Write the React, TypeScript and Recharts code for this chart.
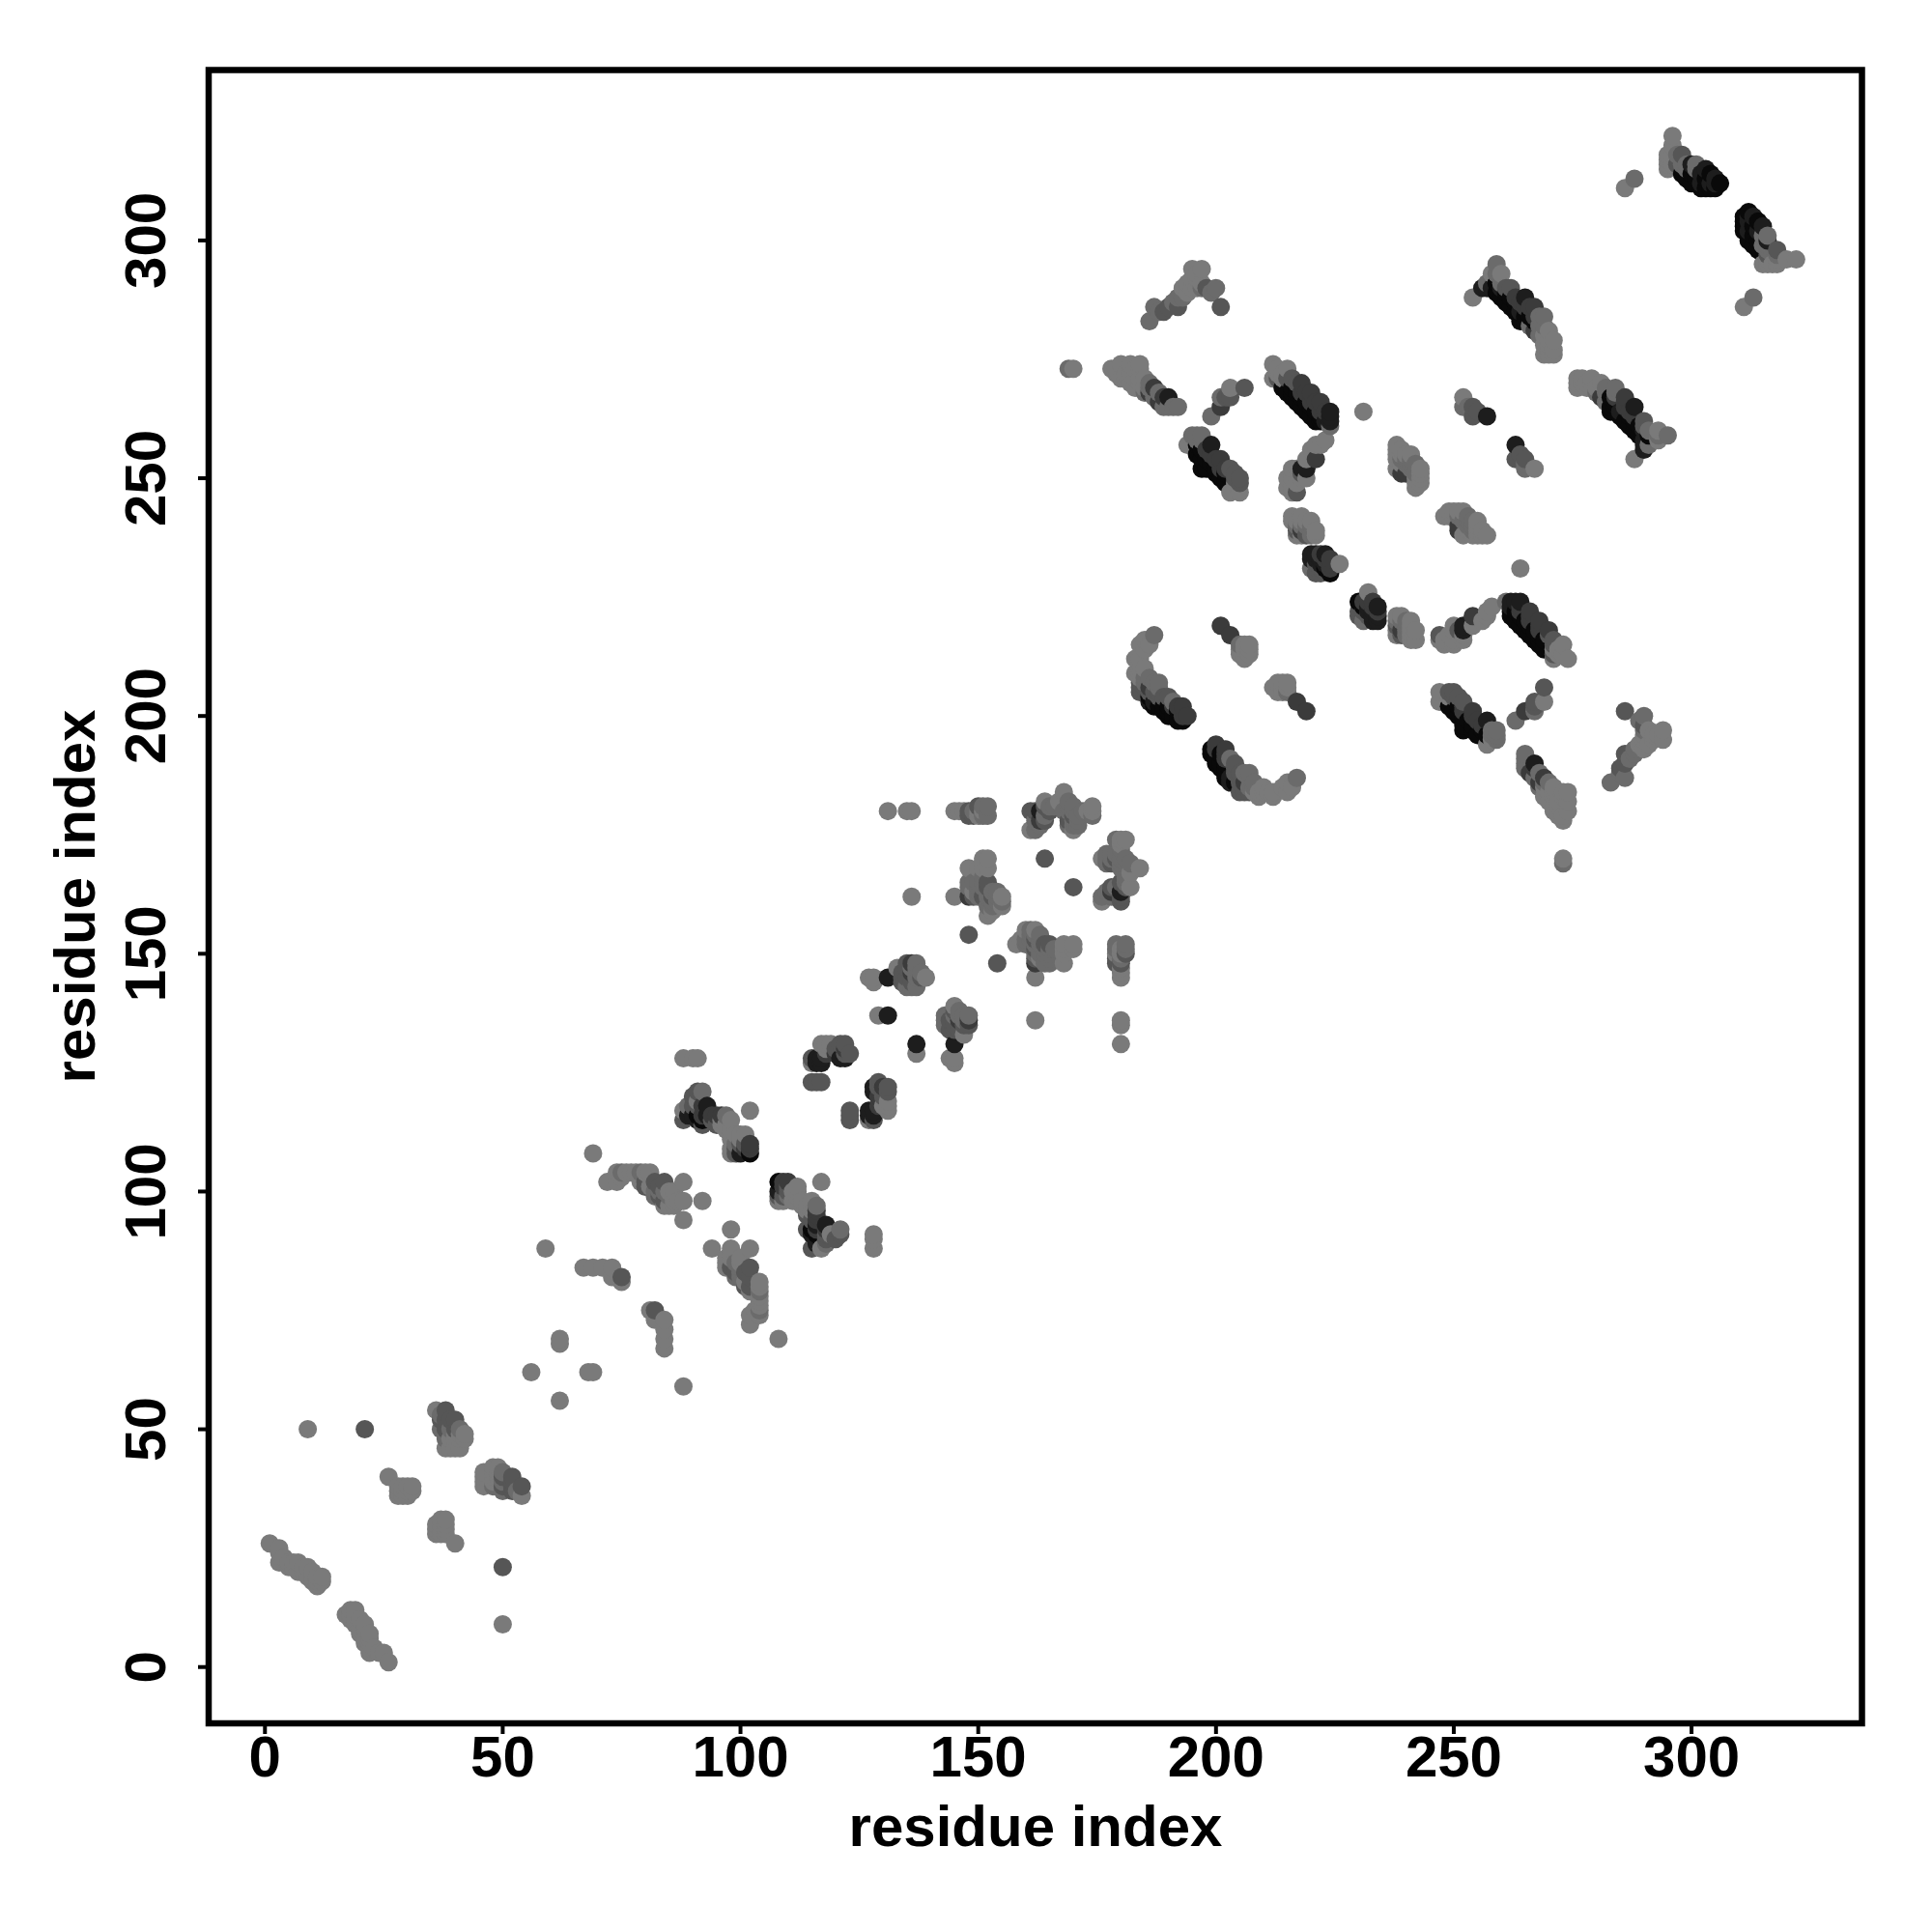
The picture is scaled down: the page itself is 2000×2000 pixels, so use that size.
import React from "react";
import { ScatterChart, Scatter, XAxis, YAxis, ReferenceArea, Label } from "recharts";

// Contacts (i < j); the map is symmetric, so each is drawn at (i,j) and (j,i).
const tickValues = [0, 50, 100, 150, 200, 250, 300];
const axisTitle = "residue index";

const level1 = [[9,50],[26,40],[28,38],[28,36],[29,36],[30,36],[31,37],[31,38],[29,38],[30,38],[29,37],[30,37],[28,37],[36,54],[39,46],[40,46],[41,46],[40,48],[41,48],[42,48],[42,49],[40,49],[41,49],[38,46],[39,48],[1,26],[3,25],[3,24],[3,22],[4,23],[4,22],[5,22],[5,21],[6,22],[6,21],[7,22],[7,20],[8,21],[8,20],[9,21],[9,19],[10,20],[10,19],[10,18],[11,19],[11,18],[12,19],[11,17],[12,18],[56,62],[62,69],[62,68],[59,88],[67,84],[69,84],[71,84],[73,84],[73,82],[75,81],[69,108],[72,102],[74,102],[74,104],[75,103],[76,104],[77,104],[78,104],[79,102],[80,104],[81,104],[81,101],[85,100],[85,97],[86,98],[86,100],[87,98],[86,97],[84,97],[88,102],[88,98],[92,98],[88,94],[88,128],[90,128],[91,128],[88,117],[98,115],[96,114],[96,115],[97,114],[97,113],[98,113],[102,117],[101,112],[99,112],[100,112],[98,111],[98,108],[98,109],[100,111],[91,119],[115,127],[117,131],[119,131],[118,131],[118,130],[127,145],[128,145],[128,144],[133,147],[139,145],[138,145],[129,137],[136,162],[145,162],[145,180],[146,180],[147,180],[150,179],[151,180],[150,180],[131,180],[135,180],[136,180],[148,168],[151,170],[151,168],[150,168],[149,163],[155,162],[152,158],[155,160],[153,159],[152,168],[152,170],[164,182],[168,184],[170,176],[174,181],[174,180],[173,180],[161,176],[167,182],[184,215],[185,214],[186,215],[185,216],[184,212],[183,212],[184,211],[184,210],[184,209],[184,208],[183,209],[185,210],[207,215],[206,212],[207,213],[207,214],[206,214],[206,215],[205,213],[205,214],[178,273],[179,273],[179,272],[180,274],[184,274],[182,274],[183,273],[184,273],[181,272],[182,272],[180,271],[183,269],[185,271],[184,271],[183,271],[182,270],[181,271],[184,270],[185,269],[170,273],[203,269],[194,257],[195,258],[203,247],[205,247],[204,249],[212,274],[212,271],[213,273],[213,272],[214,272],[215,273],[214,271],[223,258],[221,257],[222,257],[220,256],[219,254],[217,252],[216,252],[216,250],[215,250],[216,248],[216,247],[217,249],[219,250],[218,250],[215,248],[216,242],[218,242],[219,241],[217,241],[218,241],[220,241],[221,239],[221,238],[217,238],[218,238],[216,241],[226,232],[231,264],[238,257],[238,256],[239,256],[239,255],[241,255],[240,255],[238,252],[243,252],[242,248],[243,250],[238,254],[238,255],[239,253],[242,249],[243,249],[243,251],[242,250],[252,267],[258,293],[259,293],[260,293],[254,288],[270,281],[270,279],[269,280],[269,278],[270,278],[271,279],[271,277],[270,277],[270,276],[271,276],[269,276],[194,289],[195,290],[193,290],[194,291],[195,292],[195,294],[197,294],[196,292],[196,293],[196,290],[197,291],[286,311],[296,322],[296,320],[295,318],[295,317],[295,316],[295,315],[296,318],[296,316]];
const level2 = [[37,53],[38,48],[37,50],[39,50],[41,50],[82,99],[83,100],[84,100],[85,99],[82,100],[75,104],[79,104],[92,121],[89,118],[97,116],[99,110],[137,148],[137,147],[137,143],[136,147],[136,143],[135,143],[137,145],[138,146],[137,146],[149,180],[152,181],[152,179],[151,181],[151,179],[148,165],[149,165],[148,164],[151,164],[150,165],[151,166],[151,165],[152,160],[153,161],[154,163],[154,161],[155,161],[153,160],[150,162],[150,164],[150,163],[152,162],[152,163],[153,163],[154,162],[162,176],[162,178],[163,177],[164,179],[165,181],[166,181],[169,181],[169,182],[168,180],[169,180],[170,181],[170,177],[170,178],[169,177],[171,177],[171,179],[171,178],[172,180],[174,179],[170,180],[187,217],[185,208],[186,208],[185,207],[187,207],[188,207],[188,206],[191,203],[205,215],[190,265],[189,265],[188,268],[187,267],[186,270],[186,269],[185,268],[192,265],[191,265],[169,273],[201,267],[199,263],[196,259],[195,259],[197,259],[197,258],[196,258],[224,261],[217,240],[219,240],[218,240],[220,240],[220,238],[220,231],[220,239],[240,254],[241,254],[241,253],[242,253],[241,252],[242,251],[240,253],[239,254],[252,265],[253,265],[259,295],[257,291],[259,293],[269,284],[268,284],[266,282],[268,282],[269,282],[268,280],[260,291],[186,283],[187,286],[188,285],[192,288],[191,287],[193,288],[200,290],[199,289],[197,290],[288,313],[301,316],[301,315],[299,315],[299,316],[297,318],[298,316]];
const level3 = [[21,50],[38,54],[40,52],[39,52],[37,52],[38,52],[38,50],[40,50],[84,102],[82,102],[83,101],[80,101],[80,102],[84,98],[83,99],[75,82],[88,115],[91,121],[90,118],[90,120],[91,118],[92,114],[95,114],[94,115],[99,108],[99,109],[101,110],[100,110],[115,128],[115,123],[116,123],[117,123],[121,131],[122,131],[120,130],[122,129],[123,129],[135,148],[135,147],[135,145],[134,144],[134,146],[134,145],[136,144],[138,145],[148,180],[148,179],[149,179],[150,181],[148,154],[152,165],[152,164],[153,162],[151,162],[149,162],[161,180],[162,180],[165,180],[164,181],[169,178],[164,178],[170,179],[164,170],[184,205],[187,205],[185,206],[186,205],[188,205],[188,204],[189,204],[190,204],[184,207],[184,206],[206,269],[203,267],[202,267],[203,252],[204,251],[204,250],[205,250],[205,249],[216,271],[215,271],[213,271],[217,270],[217,247],[218,251],[219,238],[218,239],[217,239],[222,230],[221,232],[221,230],[222,231],[254,265],[254,263],[255,264],[262,290],[261,290],[190,286],[192,286],[189,285],[198,290],[201,286],[298,318],[297,316]];
const level4 = [[95,116],[94,116],[96,116],[92,116],[102,109],[102,110],[101,109],[92,118],[118,129],[120,129],[122,130],[136,146],[136,148],[148,162],[163,178],[193,202],[192,202],[191,202],[194,200],[193,200],[186,206],[201,219],[203,217],[187,269],[186,268],[189,267],[188,266],[201,265],[201,254],[200,254],[198,256],[199,255],[202,252],[201,252],[218,270],[218,268],[219,268],[220,268],[220,266],[221,266],[222,266],[222,264],[223,264],[221,254],[218,239],[224,232],[224,233],[224,231],[223,233],[222,234],[239,251],[240,251],[263,288],[264,287],[267,286],[266,286],[267,284],[267,281],[265,286]];
const level5 = [[93,118],[89,116],[90,116],[93,116],[91,115],[100,108],[117,128],[116,128],[116,127],[117,127],[121,128],[122,128],[131,145],[131,137],[163,180],[186,203],[187,203],[190,267],[199,257],[224,264],[224,263],[224,262],[223,262],[219,252],[218,252],[220,234],[220,233],[221,234],[221,233],[223,234],[222,233],[223,232],[222,232],[257,263],[256,290],[257,290],[258,290],[260,290],[265,288],[264,285],[300,316],[302,312],[303,315],[302,314],[305,313],[304,312],[305,312]];
const level6 = [[91,116],[92,115],[102,108],[192,199],[193,199],[191,200],[190,200],[190,201],[192,201],[188,202],[187,202],[186,204],[189,201],[189,202],[190,202],[197,252],[197,254],[198,252],[198,254],[199,253],[200,251],[200,252],[201,250],[196,255],[196,257],[197,256],[202,249],[202,251],[214,269],[215,268],[216,269],[216,268],[216,267],[217,268],[217,266],[218,267],[218,265],[219,266],[219,264],[220,265],[220,263],[221,264],[221,262],[222,263],[222,262],[224,230],[223,231],[259,291],[259,289],[260,288],[261,289],[261,287],[262,288],[262,286],[263,287],[263,285],[264,283],[265,284],[265,283],[266,284],[267,283],[298,314],[299,313],[300,314],[300,312],[302,311],[303,313],[303,311],[304,314],[306,312],[304,311],[305,311],[301,313]];

const palette = ["#7a7a7a", "#6b6b6b", "#565656", "#3b3b3b", "#1d1d1d", "#090909"];
const levels = [level1, level2, level3, level4, level5, level6];

const points = levels
  .flatMap((pairs, level) =>
    pairs.flatMap(([i, j]) => [
      { x: i, y: j, level },
      { x: j, y: i, level },
    ])
  )
  .sort((a, b) => a.x - b.x || a.y - b.y);

const font = "'Liberation Sans', Arial, sans-serif";
const domain: [number, number] = [-11.84, 335.84];

const Dot = (props: any) => (
  <circle cx={props.cx} cy={props.cy} r={9.5} fill={palette[props.payload?.level ?? props.level ?? 0]} />
);

const XTick = (p: any) => (
  <text x={p.x} y={1839} textAnchor="middle" fontFamily={font} fontWeight="bold" fontSize={60} fill="#000">
    {p.payload.value}
  </text>
);
const YTick = (p: any) => (
  <text transform={`translate(171,${p.y}) rotate(-90)`} textAnchor="middle" fontFamily={font} fontWeight="bold" fontSize={60} fill="#000">
    {p.payload.value}
  </text>
);

export default function App() {
  return (
    <div style={{ position: "absolute", left: 0, top: 0, width: 2000, height: 2000, background: "#fff" }}>
      <ScatterChart width={2000} height={2000} margin={{ top: 72.5, left: 0, right: 72.5, bottom: 0 }}>
        <XAxis type="number" dataKey="x" domain={domain} ticks={tickValues} allowDataOverflow height={216} axisLine={false}
          tickLine={{ stroke: "#000", strokeWidth: 4 }} tickSize={11} tick={<XTick />} interval={0}>
          <Label content={() => (
            <text x={1072} y={1911} textAnchor="middle" fontFamily={font} fontWeight="bold" fontSize={60} fill="#000">{axisTitle}</text>
          )} />
        </XAxis>
        <YAxis type="number" dataKey="y" domain={domain} ticks={tickValues} allowDataOverflow width={216} axisLine={false}
          tickLine={{ stroke: "#000", strokeWidth: 4 }} tickSize={11} tick={<YTick />} interval={0}>
          <Label content={() => (
            <text transform="translate(98,928) rotate(-90)" textAnchor="middle" fontFamily={font} fontWeight="bold" fontSize={60} fill="#000">{axisTitle}</text>
          )} />
        </YAxis>
        <ReferenceArea x1={domain[0]} x2={domain[1]} y1={domain[0]} y2={domain[1]} fill="none" stroke="#000" strokeWidth={6.5} ifOverflow="visible" />
        <Scatter data={points} isAnimationActive={false} shape={<Dot />} />
      </ScatterChart>
    </div>
  );
}
